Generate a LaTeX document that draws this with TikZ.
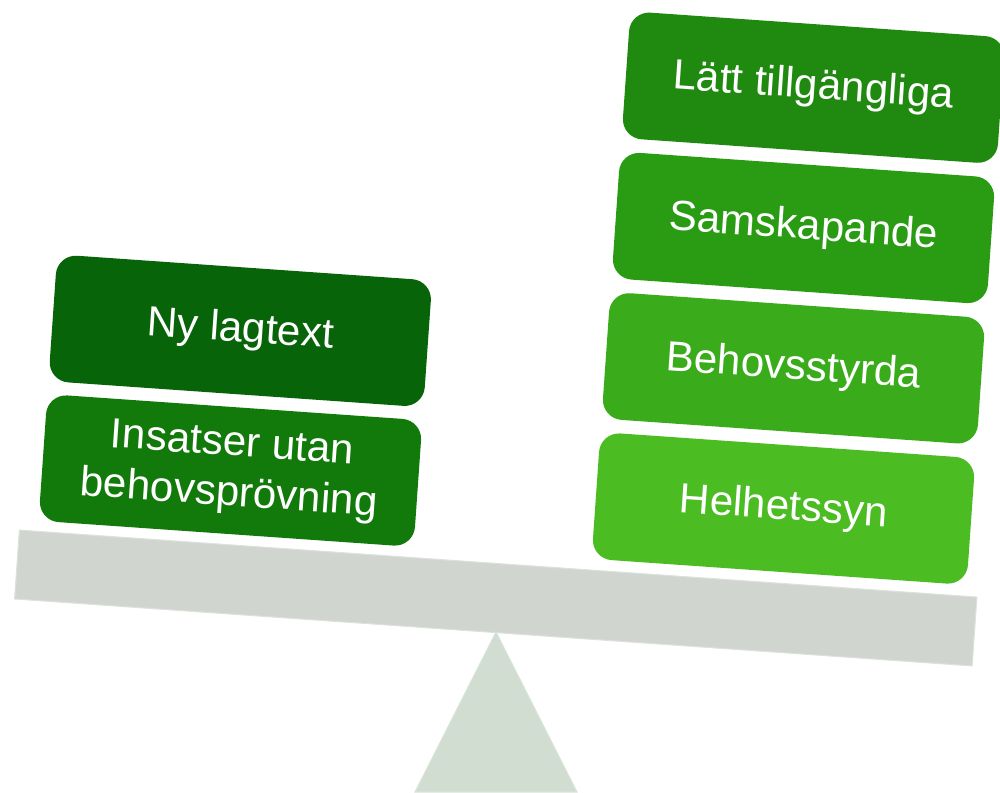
\documentclass[tikz,border=0pt]{standalone}
\usepackage{fontspec}
\setmainfont{Liberation Sans}
\definecolor{green1}{RGB}{8,100,8}
\definecolor{green2}{RGB}{18,122,10}
\definecolor{green3}{RGB}{31,138,15}
\definecolor{green4}{RGB}{42,156,20}
\definecolor{green5}{RGB}{58,172,28}
\definecolor{green6}{RGB}{75,188,34}
\definecolor{beamgray}{RGB}{208,214,207}
\definecolor{beamline}{RGB}{220,225,219}
\definecolor{fulcrumgray}{RGB}{208,221,208}
\tikzset{
  card/.style={rectangle, rounded corners=0.4cm, minimum width=7.52cm,
    minimum height=2.54cm, inner sep=0pt, rotate=-4, text=white,
    align=center, font=\fontsize{24}{28.5}\selectfont},
  beam/.style={rectangle, minimum width=19.2cm, minimum height=1.38cm,
    inner sep=0pt, rotate=-4, fill=beamgray, draw=beamline, line width=0.6pt},
}
\begin{document}
\begin{tikzpicture}[x=0.02cm, y=-0.02cm]
  \useasboundingbox (0,0) rectangle (1000,792);
  \clip (0,0) rectangle (1000,792);
  % fulcrum and beam
  \filldraw[fill=fulcrumgray, draw=fulcrumgray!80!white, line width=0.6pt]
    (496,632) -- (577,792) -- (415,792) -- cycle;
  \draw
    (495.75,598) node[beam] (beam){};
  % left pan
  \draw
    (230.5,470.5) node[card, fill=green2] (insats){Insatser utan\\behovsprövning}
    (240.3,330.8) node[card, fill=green1] (lag){Ny lagtext};
  % right pan
  \draw
    (783.5,508.5) node[card, fill=green6] (helhet){Helhetssyn}
    (793.5,368.3) node[card, fill=green5] (behov){Behovsstyrda}
    (803.5,228.0) node[card, fill=green4] (sams){Samskapande}
    (813.5,87.7) node[card, fill=green3] (latt){Lätt tillgängliga};
\end{tikzpicture}
\end{document}
